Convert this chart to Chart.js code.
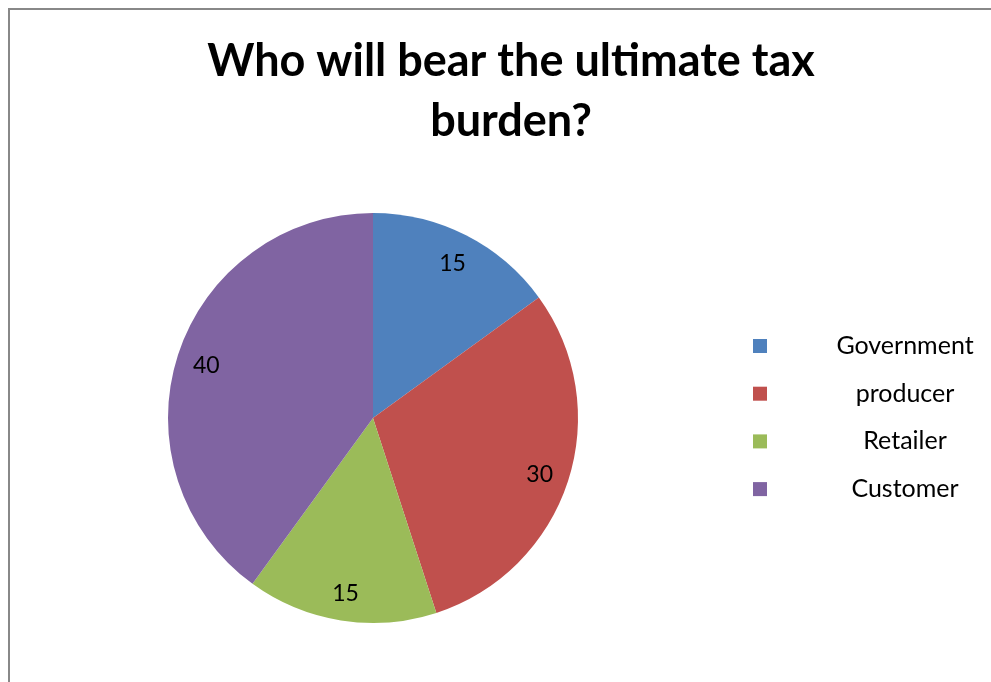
<!DOCTYPE html>
<html>
<head>
<meta charset="utf-8">
<script src="https://cdn.jsdelivr.net/npm/chart.js@4"></script>
<style>
  body { margin: 0; background: #fff; }
  #wrap { position: relative; width: 991px; height: 682px; overflow: hidden; }
  #frame { position: absolute; left: 8px; top: 8px; width: 1100px; height: 800px;
           border-left: 2px solid #888; border-top: 2px solid #888; }
  #piechart { position: absolute; left: 0; top: 0; }
</style>
</head>
<body>
<div id="wrap">
  <div id="frame"></div>
  <canvas id="piechart" width="991" height="682"></canvas>
</div>
<script>
const titleLines = ['Who will bear the ultimate tax', 'burden?'];
const categories = ['Government', 'producer', 'Retailer', 'Customer'];
const shares = [15, 30, 15, 40];
const sliceColors = ['#4F81BD', '#C0504D', '#9BBB59', '#8064A2'];

const ctx = document.getElementById('piechart');

// title, value labels and legend are drawn by hand so they sit where Excel put them
const extras = {
    id: 'extras',
    afterDatasetsDraw(chart) {
        const c = chart.ctx;
        const meta = chart.getDatasetMeta(0);
        c.save();
        c.fillStyle = '#000';

        // value labels inside each slice
        c.font = '23px Lato';
        c.textAlign = 'center';
        c.textBaseline = 'middle';
        meta.data.forEach((arc, i) => {
            const p = arc.getProps(['x', 'y', 'startAngle', 'endAngle', 'outerRadius'], true);
            const mid = (p.startAngle + p.endAngle) / 2;
            const r = p.outerRadius * 0.855;
            c.fillText(String(chart.data.datasets[0].data[i]), p.x + Math.cos(mid) * r, p.y + Math.sin(mid) * r + 2);
        });

        // title
        c.font = 'bold 45px Lato';
        c.textBaseline = 'alphabetic';
        titleLines.forEach((line, i) => {
            c.fillText(line, 511, 76 + i * 60);
        });

        // legend
        c.font = '25px Lato';
        c.textBaseline = 'middle';
        chart.data.labels.forEach((label, i) => {
            const y = 346 + i * 47.7;
            c.fillStyle = sliceColors[i];
            c.fillRect(753, y - 7, 14, 14);
            c.fillStyle = '#000';
            c.fillText(label, 905, y);
        });
        c.restore();
    }
};

new Chart(ctx, {
    type: 'pie',
    data: {
        labels: categories,
        datasets: [
            {
                data: shares,
                backgroundColor: sliceColors,
                borderWidth: 0
            }
        ]
    },
    options: {
        responsive: false,
        animation: false,
        layout: {
            padding: { top: 213, bottom: 59, left: 168, right: 413 }
        },
        plugins: {
            legend: { display: false },
            title: { display: false },
            tooltip: { enabled: false }
        }
    },
    plugins: [extras]
});
</script>
</body>
</html>
